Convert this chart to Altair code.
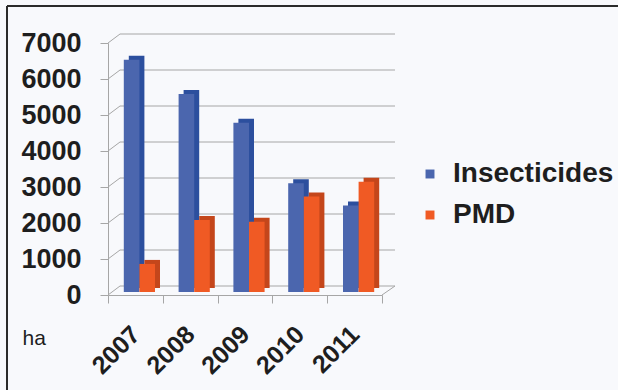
import altair as alt
import pandas as pd

# Treated area (ha) by year
years = ["2007", "2008", "2009", "2010", "2011"]
insecticides = [6450, 5500, 4700, 3020, 2400]
pmd = [780, 2000, 1950, 2650, 3060]
series = ["Insecticides", "PMD"]
y_ticks = [0, 1000, 2000, 3000, 4000, 5000, 6000, 7000]

front_colors = ["#4b66ae", "#f05a24"]
side_colors = ["#2c4f9e", "#c4461b"]

W, H = 274, 252            # plot area
BACK_DX, BACK_DY = 12, -9  # depth of the back wall
BAR_W = 15.6
FONT = "Liberation Sans"
GRID = "#a6a6a6"
PAD_L, PAD_T = 108, 43
TOTAL_W, TOTAL_H = 618, 390

bars = pd.DataFrame({
    "year": years * 2,
    "series": [series[0]] * len(years) + [series[1]] * len(years),
    "value": insecticides + pmd,
})
grid = pd.DataFrame({"v": y_ticks})
one = pd.DataFrame({"k": [0]})

x_scale = alt.Scale(domain=years, paddingInner=0, paddingOuter=0)
y_scale = alt.Scale(domain=[0, 7000])

x_axis = alt.Axis(
    tickBand="extent", labelAngle=-45, labelAlign="right", labelBaseline="middle",
    labelFontSize=25, labelFontWeight="bold", labelColor="#1e1e1e", labelPadding=27,
    tickSize=8, tickColor=GRID, domainColor=GRID, title=None, labelFont=FONT,
)
y_axis = alt.Axis(
    values=y_ticks, format="d", grid=False,
    labelFontSize=27, labelFontWeight="bold", labelColor="#1e1e1e", labelPadding=19,
    labelFont=FONT, tickSize=8, tickColor=GRID, domainColor=GRID,
    title="ha", titleAngle=0, titleAlign="left", titleBaseline="middle",
    titleX=22 - PAD_L, titleY=338 - PAD_T, titleFontSize=21, titleFontWeight="normal",
    titleColor="#1e1e1e", titleFont=FONT,
)
Y = alt.Y("v:Q", scale=y_scale, axis=y_axis)

# back wall gridlines
back_grid = alt.Chart(grid).mark_rule(color=GRID, strokeWidth=1, yOffset=BACK_DY).encode(
    y=Y, x=alt.value(BACK_DX), x2=alt.value(W + BACK_DX + 1),
)
# diagonals from the front axis to the back wall
diag = alt.Chart(grid).mark_rule(color=GRID, strokeWidth=1, y2Offset=BACK_DY).encode(
    y=Y, y2="v:Q", x=alt.value(0), x2=alt.value(BACK_DX),
)
floor_edge = alt.Chart(grid).transform_filter("datum.v == 0").mark_rule(
    color=GRID, strokeWidth=1, y2Offset=BACK_DY
).encode(
    y=Y, y2="v:Q", x=alt.value(W), x2=alt.value(W + BACK_DX + 1),
)


def bar_layer(name, shift, color=None, face_dx=0, face_dy=0):
    base = alt.Chart(bars).transform_filter(alt.datum.series == name)
    mark = base.mark_bar(
        width=BAR_W, xOffset=shift + face_dx, x2Offset=shift + face_dx,
        yOffset=-3 + face_dy, y2Offset=-3 + face_dy, cornerRadius=0,
    )
    enc = dict(
        x=alt.X("year:N", scale=x_scale, axis=x_axis, sort=years),
        y=alt.Y("value:Q", scale=y_scale, axis=y_axis),
    )
    if color is None:
        enc["color"] = alt.Color(
            "series:N",
            scale=alt.Scale(domain=series, range=front_colors),
            legend=alt.Legend(
                title=None, orient="none", legendX=426 - PAD_L - 10, legendY=117,
                symbolType="square", symbolSize=80, symbolStrokeWidth=0,
                labelFontSize=28, labelFontWeight="bold", labelColor="#1e1e1e",
                labelFont=FONT, labelOffset=9, labelLimit=300, rowPadding=13, padding=0,
            ),
        )
    else:
        enc["color"] = alt.value(color)
    return mark.encode(**enc)


sides = [
    bar_layer(series[0], -BAR_W / 2 + 4, side_colors[0], 5, -4),
    bar_layer(series[1], BAR_W / 2 + 4, side_colors[1], 5, -4),
]
fronts = [
    bar_layer(series[0], -BAR_W / 2 + 4),
    bar_layer(series[1], BAR_W / 2 + 4),
]

# frame lines along the top and left edges
frame_left = alt.Chart(one).mark_rule(color="#2b2b2b", strokeWidth=2).encode(
    x=alt.value(7 - PAD_L), y=alt.value(6 - PAD_T), y2=alt.value(TOTAL_H - PAD_T)
)
frame_top = alt.Chart(one).mark_rule(color="#2b2b2b", strokeWidth=2).encode(
    y=alt.value(6 - PAD_T), x=alt.value(7 - PAD_L), x2=alt.value(TOTAL_W - PAD_L)
)

chart = alt.layer(
    back_grid, diag, floor_edge, *sides, *fronts, frame_left, frame_top
).properties(
    width=W, height=H,
    autosize=alt.AutoSizeParams(type="none"),
    padding={"left": PAD_L, "top": PAD_T, "right": TOTAL_W - PAD_L - W,
             "bottom": TOTAL_H - PAD_T - H},
    background="#f8f9fc",
).configure_view(stroke=None)

chart.save("out.html", embed_options={"renderer": "svg", "actions": False})
